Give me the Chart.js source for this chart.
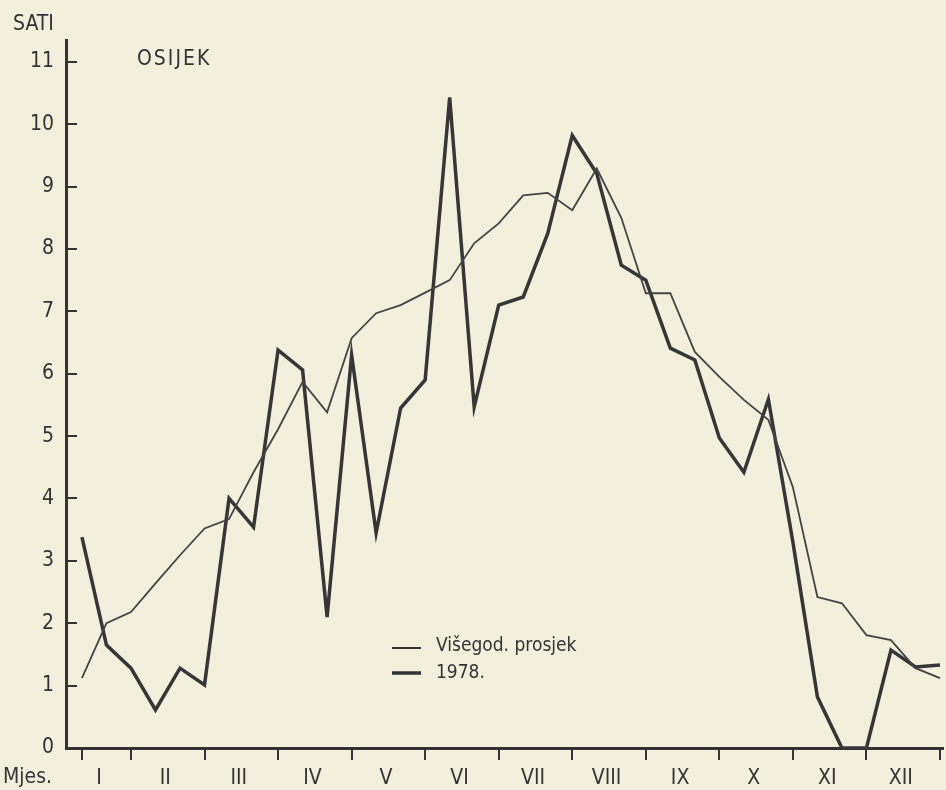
<!DOCTYPE html>
<html lang="hr">
<head>
<meta charset="UTF-8">
<title>Osijek - sati sijanja sunca</title>
<script src="https://cdn.jsdelivr.net/npm/chart.js@4.4.1/dist/chart.umd.min.js"></script>
<style>
  html, body { margin: 0; padding: 0; background: #f3efdd; }
  #wrap { width: 946px; height: 790px; }
</style>
</head>
<body>
<div id="wrap"><canvas id="chart" width="946" height="790"></canvas></div>
<script>
// mjeseci, po tri dekade u svakom
const months = ['I', 'II', 'III', 'IV', 'V', 'VI', 'VII', 'VIII', 'IX', 'X', 'XI', 'XII'];
const yValues = [0, 1, 2, 3, 4, 5, 6, 7, 8, 9, 10, 11];

// višegodišnji prosjek (sati dnevno, po dekadama)
const prosjek = [1.12, 2.0, 2.18, 2.64, 3.09, 3.52, 3.67, 4.42, 5.11, 5.87, 5.38, 6.57,
                 6.97, 7.1, 7.3, 7.5, 8.09, 8.41, 8.86, 8.9, 8.62, 9.29, 8.5, 7.29,
                 7.29, 6.35, 5.95, 5.58, 5.26, 4.18, 2.42, 2.32, 1.81, 1.73, 1.28, 1.12];

// 1978. godina
const god1978 = [3.38, 1.65, 1.28, 0.61, 1.28, 1.01, 4.0, 3.54, 6.38, 6.06, 2.1, 6.3,
                 3.45, 5.45, 5.9, 10.43, 5.47, 7.1, 7.23, 8.25, 9.82, 9.21, 7.74, 7.5,
                 6.41, 6.22, 4.97, 4.42, 5.59, 3.3, 0.82, 0, 0, 1.57, 1.3, 1.33];

const legendNames = ['Višegod. prosjek', '1978.'];

const ink = '#333';
const font = '"DejaVu Sans Condensed", "DejaVu Sans", sans-serif';

// crtice na kraju mjeseci, natpisi malo iza njih
const xTicks = [{ value: 0, mark: true }]
  .concat(months.map((m, k) => ({ value: 3 * k + 2, mark: true })))
  .concat(months.map((m, k) => ({ value: k === 0 ? 0.7 : 3 * k + 0.4, mark: false, text: m })))
  .sort((a, b) => a.value - b.value);

const texts = {
  id: 'texts',
  afterDraw(chart) {
    const ctx = chart.ctx;
    ctx.save();
    ctx.fillStyle = ink;
    ctx.textBaseline = 'middle';
    ctx.textAlign = 'left';
    ctx.font = '21px ' + font;
    ctx.fillText('SATI', 13, 25);
    ctx.fillText('Mjes.', 3, 778);
    ctx.letterSpacing = '2px';
    ctx.fillText('OSIJEK', 137, 60);
    ctx.letterSpacing = '0px';

    // legenda
    ctx.font = '19px ' + font;
    ctx.strokeStyle = ink;
    ctx.lineWidth = 2;
    ctx.beginPath(); ctx.moveTo(392, 648); ctx.lineTo(421, 648); ctx.stroke();
    ctx.lineWidth = 3.5;
    ctx.beginPath(); ctx.moveTo(392, 673); ctx.lineTo(421, 673); ctx.stroke();
    ctx.fillText(legendNames[0], 436, 646);
    ctx.fillText(legendNames[1], 436, 673);
    ctx.restore();
  }
};

new Chart(document.getElementById('chart'), {
  type: 'line',
  data: {
    datasets: [
      {
        label: legendNames[0],
        data: prosjek.map((v, i) => ({ x: i, y: v })),
        borderColor: '#444',
        borderWidth: 1.8,
        pointRadius: 0,
        tension: 0,
        clip: false
      },
      {
        label: legendNames[1],
        data: god1978.map((v, i) => ({ x: i, y: v })),
        borderColor: '#363636',
        borderWidth: 3.5,
        pointRadius: 0,
        tension: 0,
        clip: false
      }
    ]
  },
  options: {
    responsive: false,
    animation: false,
    layout: { padding: { top: 40, right: 1, left: 0, bottom: 0 } },
    plugins: { legend: { display: false }, tooltip: { enabled: false } },
    scales: {
      x: {
        type: 'linear',
        min: -0.65,
        max: 35.12,
        afterBuildTicks: (scale) => { scale.ticks = xTicks.map(t => Object.assign({}, t)); },
        afterFit: (scale) => { scale.height = 42; },
        border: { display: true, color: ink, width: 3 },
        grid: {
          drawOnChartArea: false,
          drawTicks: true,
          tickLength: 12,
          lineWidth: 2,
          tickColor: (c) => (c.tick && c.tick.mark ? ink : 'rgba(0,0,0,0)')
        },
        ticks: {
          autoSkip: false,
          maxRotation: 0,
          padding: 6,
          color: ink,
          font: { family: font, size: 21 },
          callback: (value, index, ticks) => (ticks[index].mark ? '' : ticks[index].text)
        }
      },
      y: {
        type: 'linear',
        min: 0,
        max: 11.35,
        afterBuildTicks: (scale) => { scale.ticks = yValues.map(v => ({ value: v })); },
        afterFit: (scale) => { scale.width = 66; },
        border: { display: true, color: ink, width: 3 },
        grid: {
          drawOnChartArea: false,
          drawTicks: true,
          tickLength: -11,
          lineWidth: 2,
          tickColor: ink
        },
        ticks: {
          padding: 23,
          color: ink,
          font: { family: font, size: 21 }
        }
      }
    }
  },
  plugins: [texts]
});
</script>
</body>
</html>
